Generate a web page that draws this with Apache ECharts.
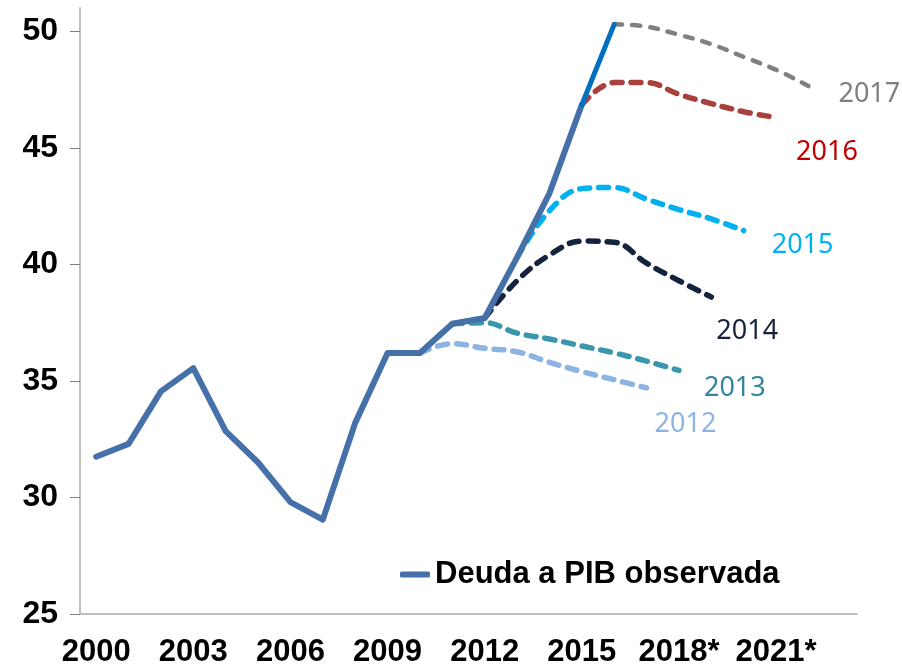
<!DOCTYPE html>
<html>
<head>
<meta charset="utf-8">
<script src="https://cdn.jsdelivr.net/npm/echarts@6/dist/echarts.min.js"></script>
<style>
  html, body { margin: 0; padding: 0; background: #fff; }
  #deuda { width: 902px; height: 668px; }
</style>
</head>
<body>
<div id="deuda"></div>
<script>
// años del eje x (desde 2018 son proyecciones)
const years = ['2000','2001','2002','2003','2004','2005','2006','2007','2008','2009','2010','2011',
  '2012','2013','2014','2015','2016','2017','2018*','2019*','2020*','2021*','2022*','2023*']
const yTicks = [25, 30, 35, 40, 45, 50]

// deuda a PIB observada
const observada = [31.75, 32.3, 34.55, 35.55, 32.85, 31.5, 29.8, 29.05, 33.2, 36.2, 36.2, 37.45,
  37.7, 40.3, 43.05, 46.85]
const observadaUltimo = [null, null, null, null, null, null, null, null, null, null, null, null,
  null, null, null, 46.85, 50.3]

// proyecciones de cada año
const proy2012 = [null, null, null, null, null, null, null, null, null, null, 36.2, 36.6,
  36.4, 36.25, 35.8, 35.4, 35.05, 34.7]
const proy2013 = [null, null, null, null, null, null, null, null, null, null, null, 37.45,
  37.5, 37.05, 36.8, 36.5, 36.2, 35.85, 35.45]
const proy2014 = [null, null, null, null, null, null, null, null, null, null, null, null,
  37.7, 39.3, 40.4, 41.0, 40.95, 40.05, 39.3, 38.6]
const proy2015 = [null, null, null, null, null, null, null, null, null, null, null, null,
  null, 40.3, 42.3, 43.25, 43.3, 42.8, 42.35, 41.95, 41.45]
const proy2016 = [null, null, null, null, null, null, null, null, null, null, null, null,
  null, null, null, 46.85, 47.8, 47.8, 47.3, 46.9, 46.55, 46.3]
const proy2017 = [null, null, null, null, null, null, null, null, null, null, null, null,
  null, null, null, null, 50.3, 50.2, 49.85, 49.45, 48.9, 48.35, 47.65]

function proyeccion(name, data, color, labelColor, width, dash, offset){
  return {
    name: name,
    type: 'line',
    data: data,
    smooth: 0.4,
    showSymbol: false,
    connectNulls: false,
    z: 2,
    lineStyle: { color: color, width: width, type: dash, cap: 'round' },
    endLabel: {
      show: true,
      formatter: '{a}',
      color: labelColor,
      fontSize: 27,
      fontFamily: 'Noto Sans',
      distance: 0,
      offset: offset
    }
  }
}

let myChart = echarts.init(document.getElementById('deuda'))
myChart.setOption({
  animation: false,
  grid: { left: 80, right: 45, top: 8, bottom: 54 },
  legend: {
    data: [{ name: 'Deuda a PIB observada', icon: 'roundRect' }],
    left: 400,
    top: 559,
    padding: 0,
    itemWidth: 30,
    itemHeight: 6,
    textStyle: { fontFamily: 'Liberation Sans', fontWeight: 'bold', fontSize: 31, color: '#000' }
  },
  xAxis: {
    type: 'category',
    data: years,
    boundaryGap: true,
    axisLine: { lineStyle: { color: '#bfbfbf', width: 2 } },
    axisTick: { show: false },
    axisLabel: {
      interval: 2,
      margin: 23,
      fontFamily: 'Liberation Sans',
      fontWeight: 'bold',
      fontSize: 31,
      color: '#000'
    }
  },
  yAxis: {
    type: 'value',
    min: 25,
    max: 51,
    splitLine: { show: false },
    axisLine: { show: true, lineStyle: { color: '#bfbfbf', width: 2 } },
    axisTick: { show: true, inside: false, length: 10, customValues: yTicks, lineStyle: { color: '#808080' } },
    axisLabel: {
      customValues: yTicks,
      margin: 22,
      fontFamily: 'Liberation Sans',
      fontWeight: 'bold',
      fontSize: 32,
      color: '#000'
    }
  },
  series: [
    proyeccion('2012', proy2012, '#8db3e2', '#8eb4e3', 5.5, [10, 9], [8, 36]),
    proyeccion('2013', proy2013, '#3a97ae', '#31859c', 5.5, [10, 9], [25, 18]),
    proyeccion('2014', proy2014, '#14243e', '#17233d', 5.5, [10, 9], [5, 34]),
    proyeccion('2015', proy2015, '#00b0f0', '#00b0f0', 5.5, [10, 9], [28, 15]),
    proyeccion('2016', proy2016, '#a8413e', '#c00000', 5.5, [10, 9], [20, 35]),
    proyeccion('2017', proy2017, '#808080', '#7f7f7f', 4.5, [8, 10], [30, 8]),
    {
      name: 'Deuda a PIB observada',
      type: 'line',
      data: observada,
      showSymbol: false,
      z: 5,
      itemStyle: { color: '#4571a8' },
      lineStyle: { color: '#4571a8', width: 6, join: 'round', cap: 'round' }
    },
    {
      name: 'ultimo dato',
      type: 'line',
      data: observadaUltimo,
      showSymbol: false,
      z: 5,
      lineStyle: { color: '#0070c0', width: 5, cap: 'round' }
    }
  ]
})
</script>
</body>
</html>
